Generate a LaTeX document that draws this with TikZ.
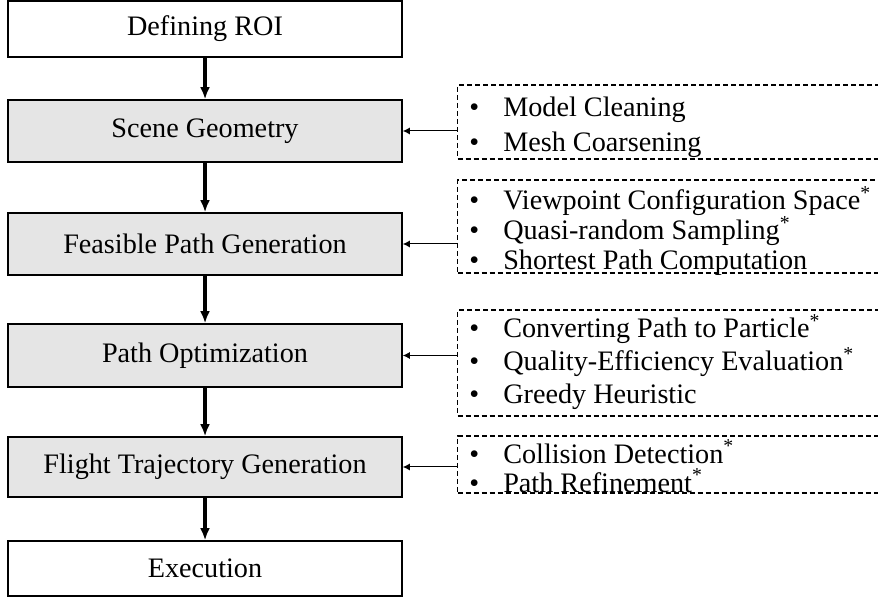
\documentclass[tikz,border=0pt]{standalone}
\usepackage{fontspec}
\setmainfont{Liberation Serif}
\usetikzlibrary{arrows.meta, positioning}

\newcommand\itm{\textbullet\hspace{12pt}}

\tikzset{
    stage/.style={draw, line width=0.8pt, minimum width=197pt, inner sep=0pt, font=\fontsize{14.1}{17}\selectfont},
    stagegray/.style={stage, fill=gray!20},
    frame/.style={draw, dash pattern=on 2.5pt off 1.5pt, line width=0.7pt, anchor=west, minimum width=213pt, inner sep=0pt},
    detail/.style={anchor=west, inner sep=0pt, align=left, font=\fontsize{14.1}{#1}\selectfont},
    flow/.style={-{Latex[length=6pt,width=5pt]}, line width=1.6pt},
    feed/.style={-{Latex[length=3.5pt,width=3.5pt]}, line width=0.5pt}
}

\begin{document}
\begin{tikzpicture}[x=0.5pt, y=-0.5pt]
    \useasboundingbox (0,0) rectangle (878,597);

    % Etapas principales
    \node[stage, minimum height=28pt] (roi) at (205,29) {Defining ROI};
    \node[stagegray, minimum height=31pt] (scene) at (205,131) {Scene Geometry};
    \node[stagegray, minimum height=31pt] (feas) at (205,244) {Feasible Path Generation};
    \node[stagegray, minimum height=31.5pt] (optim) at (205,355.5) {Path Optimization};
    \node[stagegray, minimum height=30pt] (flight) at (205,467) {Flight Trajectory Generation};
    \node[stage, minimum height=27.5pt] (exec) at (205,568.5) {Execution};

    % Recuadros punteados
    \node[frame, minimum height=37pt] (f1) at (457,122) {};
    \node[frame, minimum height=46.5pt] (f2) at (457,226.5) {};
    \node[frame, minimum height=53pt] (f3) at (457,363) {};
    \node[frame, minimum height=28.5pt] (f4) at (457,464.5) {};

    % Detalles de cada etapa
    \node[detail=17.5pt] (d1) at (469,127)
        {\itm Model Cleaning\\ \itm Mesh Coarsening};
    \node[detail=15pt] (d2) at (469,231)
        {\itm Viewpoint Configuration Space\textsuperscript{*}\\ \itm Quasi-random Sampling\textsuperscript{*}\\ \itm Shortest Path Computation};
    \node[detail=16.5pt] (d3) at (469,362)
        {\itm Converting Path to Particle\textsuperscript{*}\\ \itm Quality-Efficiency Evaluation\textsuperscript{*}\\ \itm Greedy Heuristic};
    \node[detail=14.5pt] (d4) at (469,466)
        {\itm Collision Detection\textsuperscript{*}\\ \itm Path Refinement\textsuperscript{*}};

    % Flujo principal
    \draw[flow] (roi) -- (scene);
    \draw[flow] (scene) -- (feas);
    \draw[flow] (feas) -- (optim);
    \draw[flow] (optim) -- (flight);
    \draw[flow] (flight) -- (exec);

    % Flechas laterales
    \draw[feed] (scene.east -| f1.west) -- (scene.east);
    \draw[feed] (feas.east -| f2.west) -- (feas.east);
    \draw[feed] (optim.east -| f3.west) -- (optim.east);
    \draw[feed] (flight.east -| f4.west) -- (flight.east);

\end{tikzpicture}
\end{document}
